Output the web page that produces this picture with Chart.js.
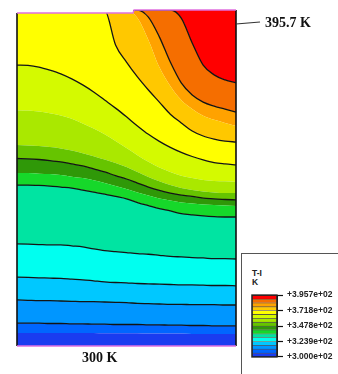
<!DOCTYPE html>
<html>
<head>
<meta charset="utf-8">
<script src="https://cdn.jsdelivr.net/npm/chart.js@4.4.1/dist/chart.umd.min.js"></script>
<style>
  html, body { margin: 0; padding: 0; background: #fff; }
  body { width: 338px; height: 374px; position: relative; overflow: hidden; }
  #plot { position: absolute; left: 0; top: 0; }
  .note { position: absolute; font-family: "Liberation Serif", serif; font-weight: bold;
          font-size: 14px; line-height: 14px; color: #111; white-space: nowrap; }
  #legendBox { position: absolute; left: 241px; top: 253px; width: 120px; height: 140px;
               border: 1px solid #555; background: #fff; }
  .leg { position: absolute; font-family: "Liberation Sans", sans-serif; font-weight: bold;
         font-size: 8.5px; line-height: 9px; color: #222; }
  #bar { position: absolute; left: 248px; top: 286px; }
</style>
</head>
<body>
<canvas id="plot" width="338" height="374"></canvas>
<div class="note" style="left:265px; top:16px;">395.7 K</div>
<div class="note" style="left:82px; top:351px;">300 K</div>
<div id="legendBox"></div>
<div class="leg" style="left:252px; top:269px;">T-I</div>
<div class="leg" style="left:252px; top:278px;">K</div>
<canvas id="bar" width="90" height="80"></canvas>
<script>
// position across the section, % of width (left -> right)
const xPos = [0, 5, 10, 15, 20, 25, 30, 35, 40, 45, 50, 55, 60, 65, 70, 75, 80, 85, 90, 95, 100];

// height of each isotherm, % of section height measured from the 300 K side
const isoU1 = [3.9, 3.9, 3.9, 3.9, 3.9, 3.9, 3.9, 3.9, 3.8, 3.8, 3.8, 3.8, 3.7, 3.7, 3.7, 3.7, 3.6, 3.6, 3.6, 3.6, 3.6];
const isoD  = [6.8, 6.8, 6.8, 6.7, 6.7, 6.6, 6.6, 6.5, 6.5, 6.4, 6.4, 6.4, 6.3, 6.3, 6.2, 6.2, 6.1, 6.1, 6.0, 6.0, 6.0];
const isoC  = [13.7, 13.6, 13.5, 13.5, 13.4, 13.3, 13.2, 13.2, 13.1, 13.0, 12.9, 12.7, 12.6, 12.5, 12.4, 12.4, 12.3, 12.3, 12.3, 12.2, 12.2];
const isoB  = [20.5, 20.4, 20.3, 20.2, 20.1, 19.9, 19.7, 19.4, 19.1, 18.9, 18.8, 18.6, 18.5, 18.4, 18.3, 18.2, 18.2, 18.1, 18.0, 18.0, 17.9];
const isoA  = [30.4, 30.3, 30.2, 30.1, 30.1, 29.8, 29.5, 28.9, 28.4, 28.1, 27.8, 27.5, 27.3, 27.0, 26.7, 26.5, 26.3, 26.2, 26.0, 26.0, 25.9];
const isoE  = [47.9, 47.9, 47.8, 47.6, 47.3, 47.0, 46.4, 45.8, 45.2, 44.5, 43.8, 42.7, 41.8, 40.9, 40.2, 39.4, 39.0, 38.7, 38.5, 38.4, 38.4];
const isoG2 = [51.5, 51.5, 51.3, 51.2, 50.9, 50.4, 50.0, 49.3, 48.5, 47.6, 46.7, 45.7, 44.8, 43.9, 43.3, 42.7, 42.4, 42.1, 42.0, 41.8, 41.7];
const isoG1 = [55.8, 55.7, 55.5, 55.2, 54.8, 54.2, 53.6, 52.7, 51.8, 50.7, 49.7, 48.5, 47.3, 46.3, 45.5, 44.9, 44.5, 44.0, 43.8, 43.6, 43.5];
const isoL2 = [59.8, 59.7, 59.5, 59.2, 58.8, 58.2, 57.4, 56.5, 55.5, 54.5, 53.3, 51.8, 50.3, 49.0, 47.9, 47.0, 46.4, 46.0, 45.7, 45.5, 45.5];
const isoL1 = [70.2, 70.1, 69.8, 69.3, 68.6, 67.6, 66.2, 64.7, 63.0, 61.0, 58.9, 56.8, 54.8, 53.1, 51.8, 50.7, 50.0, 49.4, 49.1, 49.0, 48.8];
const isoY  = [83.6, 83.5, 83.0, 82.1, 81.0, 79.5, 77.7, 75.6, 73.2, 70.8, 68.2, 65.5, 63.0, 60.9, 59.1, 57.6, 56.4, 55.4, 54.6, 54.2, 53.9];
const isoO3 = [100, 100, 100, 100, 100, 100, 100, 100, 100, 89.6, 84.5, 80.1, 76.2, 72.6, 69.0, 66.4, 64.0, 62.5, 61.6, 61.0, 60.7];
const isoO2 = [100, 100, 100, 100, 100, 100, 100, 100, 100, 100, 100, 97.6, 91.1, 83.0, 77.4, 73.2, 70.5, 68.5, 67.3, 66.4, 65.5];
const isoO1 = [100, 100, 100, 100, 100, 100, 100, 100, 100, 100, 100, 100, 97.9, 92.0, 84.5, 78.3, 74.7, 72.6, 71.4, 70.5, 69.6];
const isoR  = [100, 100, 100, 100, 100, 100, 100, 100, 100, 100, 100, 100, 100, 100, 100, 97.6, 90.2, 83.6, 80.7, 79.2, 78.3];

// temperature levels of the 16 bands (K), and colour of each band, cold -> hot
const levels = [300.0, 306.0, 312.0, 317.9, 323.9, 329.9, 335.9, 341.9, 347.8,
                353.8, 359.8, 365.8, 371.8, 377.8, 383.7, 389.7, 395.7];
const bandColors = ['#1a3cf0', '#0066ff', '#0096ff', '#00c8ff', '#00fff0', '#00e4a2',
                    '#16d82a', '#2f9808', '#66c400', '#aae800', '#d4fa00', '#ffff00',
                    '#ffc800', '#ffa200', '#f56e00', '#ff0000'];

// legend ticks
const tickValues = [300.0, 323.9, 347.8, 371.8, 395.7];
const tickLabels = ['+3.000e+02', '+3.239e+02', '+3.478e+02', '+3.718e+02', '+3.957e+02'];

// band tops, bottom band first; the last one is filled up to the top edge
const bandTops = [isoU1, isoD, isoC, isoB, isoA, isoE, isoG2, isoG1, isoL2, isoL1, isoY, isoO3, isoO2, isoO1, isoR, isoR];
const drawnLine = [false, true, true, true, true, true, false, true, false, false, true, true, false, true, true, false];

const datasets = bandTops.map((arr, i) => ({
  data: arr,
  fill: i === 0 ? 'origin' : (i === bandTops.length - 1 ? 'end' : '-1'),
  backgroundColor: bandColors[i],
  borderColor: drawnLine[i] ? '#141414' : 'rgba(0,0,0,0)',
  borderWidth: drawnLine[i] ? 1.3 : 0,
  pointRadius: 0,
  cubicInterpolationMode: 'monotone'
}));

const frame = {
  id: 'frame',
  afterDatasetsDraw(chart) {
    const { ctx, chartArea: a } = chart;
    const step = a.left + (a.right - a.left) * 0.53; // top edge steps up here
    ctx.save();
    // left part of the top edge sits a little lower
    ctx.fillStyle = '#fff';
    ctx.fillRect(a.left - 1, a.top - 2, step - a.left + 1, 5);
    ctx.lineWidth = 1.6;
    ctx.strokeStyle = '#111';
    ctx.beginPath();
    ctx.moveTo(a.left, a.top + 3); ctx.lineTo(a.left, a.bottom);
    ctx.moveTo(a.right, a.top); ctx.lineTo(a.right, a.bottom);
    ctx.stroke();
    ctx.strokeStyle = '#e070e0';
    ctx.lineWidth = 1.4;
    ctx.beginPath();
    ctx.moveTo(a.left, a.top + 3); ctx.lineTo(step, a.top + 3); ctx.lineTo(step + 1, a.top);
    ctx.lineTo(a.right, a.top);
    ctx.moveTo(a.left, a.bottom); ctx.lineTo(a.right, a.bottom);
    ctx.stroke();
    // leader to the hot corner label
    ctx.strokeStyle = '#333';
    ctx.lineWidth = 1.2;
    ctx.beginPath();
    ctx.moveTo(a.right, a.top + 14); ctx.lineTo(a.right + 24, a.top + 12);
    ctx.stroke();
    ctx.restore();
  }
};

new Chart(document.getElementById('plot'), {
  type: 'line',
  data: { labels: xPos, datasets: datasets },
  options: {
    responsive: false,
    animation: false,
    layout: { padding: { left: 17, top: 10, right: 102, bottom: 28 } },
    scales: {
      x: { display: false },
      y: { display: false, min: 0, max: 100 }
    },
    plugins: {
      legend: { display: false },
      tooltip: { enabled: false },
      filler: { drawTime: 'beforeDatasetsDraw' }
    }
  },
  plugins: [frame]
});

// colour bar
const barSets = bandColors.map((c, i) => ({
  data: [[levels[i], levels[i + 1]]],
  backgroundColor: c,
  borderColor: 'rgba(20,20,20,0.7)',
  borderWidth: 0.8,
  barPercentage: 1,
  categoryPercentage: 1
}));

const barFrame = {
  id: 'barFrame',
  afterDatasetsDraw(chart) {
    const { ctx, chartArea: a } = chart;
    ctx.save();
    ctx.strokeStyle = '#222';
    ctx.lineWidth = 1.5;
    ctx.strokeRect(a.left, a.top, a.right - a.left, a.bottom - a.top);
    ctx.restore();
  }
};

new Chart(document.getElementById('bar'), {
  type: 'bar',
  data: { labels: ['T'], datasets: barSets },
  options: {
    responsive: false,
    animation: false,
    grouped: false,
    layout: { padding: { left: 4, top: 6, bottom: 6, right: 0 } },
    scales: {
      x: { display: false },
      y: {
        position: 'right',
        min: 300, max: 395.7,
        afterFit: s => { s.width = 61; },
        afterBuildTicks: s => { s.ticks = tickValues.map(v => ({ value: v })); },
        grid: { drawOnChartArea: false, tickLength: 6, color: '#111', tickWidth: 1.2 },
        border: { display: true, color: '#111' },
        ticks: {
          padding: 4,
          color: '#222',
          font: { family: 'Liberation Sans', weight: 'bold', size: 8.5 },
          callback: (v, i) => tickLabels[i]
        }
      }
    },
    plugins: { legend: { display: false }, tooltip: { enabled: false } }
  },
  plugins: [barFrame]
});
</script>
</body>
</html>
